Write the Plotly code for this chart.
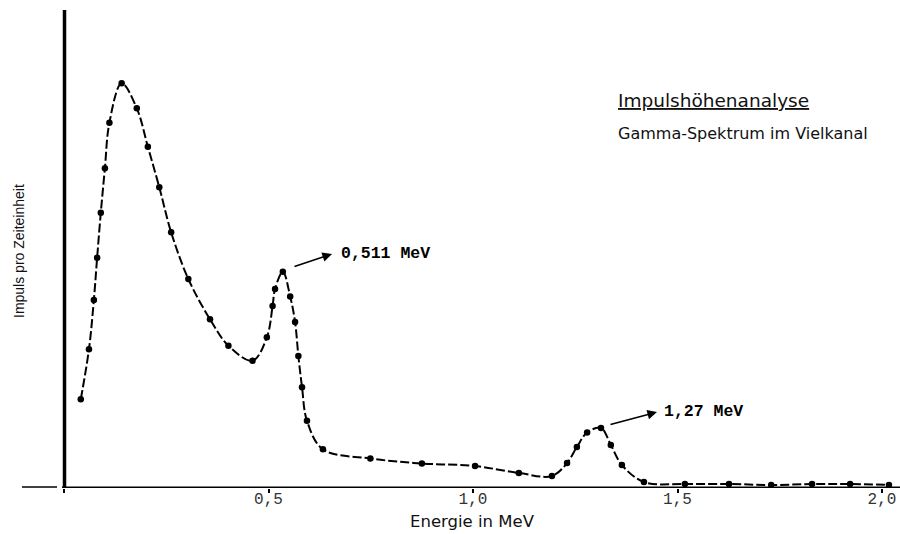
import plotly.graph_objects as go

# Energy (MeV) and relative pulse rate (arbitrary units)
energie = [0.041, 0.061, 0.073, 0.081, 0.090, 0.100, 0.111, 0.141, 0.178, 0.205,
           0.233, 0.262, 0.304, 0.357, 0.402, 0.461, 0.496, 0.510, 0.516, 0.535,
           0.553, 0.565, 0.573, 0.582, 0.594, 0.633, 0.749, 0.875, 1.005, 1.112,
           1.193, 1.230, 1.254, 1.279, 1.313, 1.337, 1.364, 1.418, 1.518, 1.626,
           1.729, 1.829, 1.922, 2.017]
impulse = [88.7, 138.7, 188.0, 230.3, 275.3, 319.7, 365.3, 404.7, 379.7, 341.3,
           300.7, 255.7, 209.0, 168.7, 142.3, 127.3, 150.7, 182.0, 199.0, 216.3,
           191.5, 166.0, 132.0, 100.7, 67.3, 38.7, 29.5, 24.5, 22.0, 15.0,
           12.0, 25.0, 41.0, 55.5, 60.0, 43.0, 23.0, 6.0, 4.0, 4.0,
           3.0, 4.0, 4.0, 3.0]

tick_vals = [0, 0.5, 1.0, 1.5, 2.0]
tick_text = ["", "0,5", "1,0", "1,5", "2,0"]

PX = 409.0      # pixels per MeV
X0 = 64.0       # pixel of 0 MeV
xmin = -X0 / PX
xmax = (900 - X0) / PX

def ex(px):
    return (px - X0) / PX

fig = go.Figure()
fig.add_trace(go.Scatter(
    x=energie, y=impulse, mode="lines+markers",
    line=dict(color="black", width=2, dash="9px,3px", shape="spline"),
    marker=dict(color="black", size=6.5),
    hoverinfo="skip", showlegend=False,
))

shapes = [
    # y axis
    dict(type="line", xref="x", yref="y", x0=ex(64.5), x1=ex(64.5), y0=0, y1=478,
         line=dict(color="black", width=3.5)),
    # x axis (thick part)
    dict(type="line", xref="x", yref="y", x0=ex(62), x1=ex(900), y0=0, y1=0,
         line=dict(color="black", width=3)),
    # x axis (thin left stub)
    dict(type="line", xref="x", yref="y", x0=ex(22), x1=ex(57), y0=1, y1=1,
         line=dict(color="black", width=1.5)),
]

mono = dict(family="Liberation Mono", size=16.5, color="black")
annotations = [
    dict(x=ex(332), y=234, xref="x", yref="y", text="", showarrow=True,
         ax=-39, ay=13, arrowhead=2, arrowsize=1.2, arrowwidth=1.6, arrowcolor="black"),
    dict(x=ex(339), y=235, xref="x", yref="y", text="<b>0,511 MeV</b>", showarrow=False,
         xanchor="left", yanchor="middle", font=mono),
    dict(x=ex(657), y=76, xref="x", yref="y", text="", showarrow=True,
         ax=-48, ay=13, arrowhead=2, arrowsize=1.2, arrowwidth=1.6, arrowcolor="black"),
    dict(x=ex(662), y=77, xref="x", yref="y", text="<b>1,27 MeV</b>", showarrow=False,
         xanchor="left", yanchor="middle", font=mono),
    dict(x=ex(616), y=388, xref="x", yref="y", text="<u>Impulshöhenanalyse</u>",
         showarrow=False, xanchor="left", yanchor="middle",
         font=dict(family="DejaVu Sans", size=18.5, color="#111")),
    dict(x=ex(616), y=355, xref="x", yref="y", text="Gamma-Spektrum im Vielkanal",
         showarrow=False, xanchor="left", yanchor="middle",
         font=dict(family="DejaVu Sans", size=16, color="#111")),
    dict(x=ex(19), y=237, xref="x", yref="y", text="Impuls pro Zeiteinheit",
         showarrow=False, textangle=-90, xanchor="center", yanchor="middle",
         font=dict(family="Liberation Sans", size=14, color="#111")),
    dict(x=ex(472), y=-33 / 488, xref="x", yref="paper", text="Energie in MeV",
         showarrow=False, xanchor="center", yanchor="middle",
         font=dict(family="DejaVu Sans", size=16.5, color="#111")),
]

fig.update_layout(
    width=900, height=534,
    margin=dict(l=0, r=0, t=0, b=46),
    paper_bgcolor="white", plot_bgcolor="white",
    shapes=shapes, annotations=annotations,
    xaxis=dict(range=[xmin, xmax], showgrid=False, zeroline=False, showline=False,
               tickvals=tick_vals, ticktext=tick_text, ticks="outside", ticklen=4,
               tickwidth=1.5, tickcolor="black", ticklabelstandoff=-8,
               tickfont=dict(family="Liberation Mono", size=16, color="#333")),
    yaxis=dict(range=[0, 488], showgrid=False, zeroline=False, showline=False,
               showticklabels=False, ticks=""),
)

fig.write_html("out.html")
